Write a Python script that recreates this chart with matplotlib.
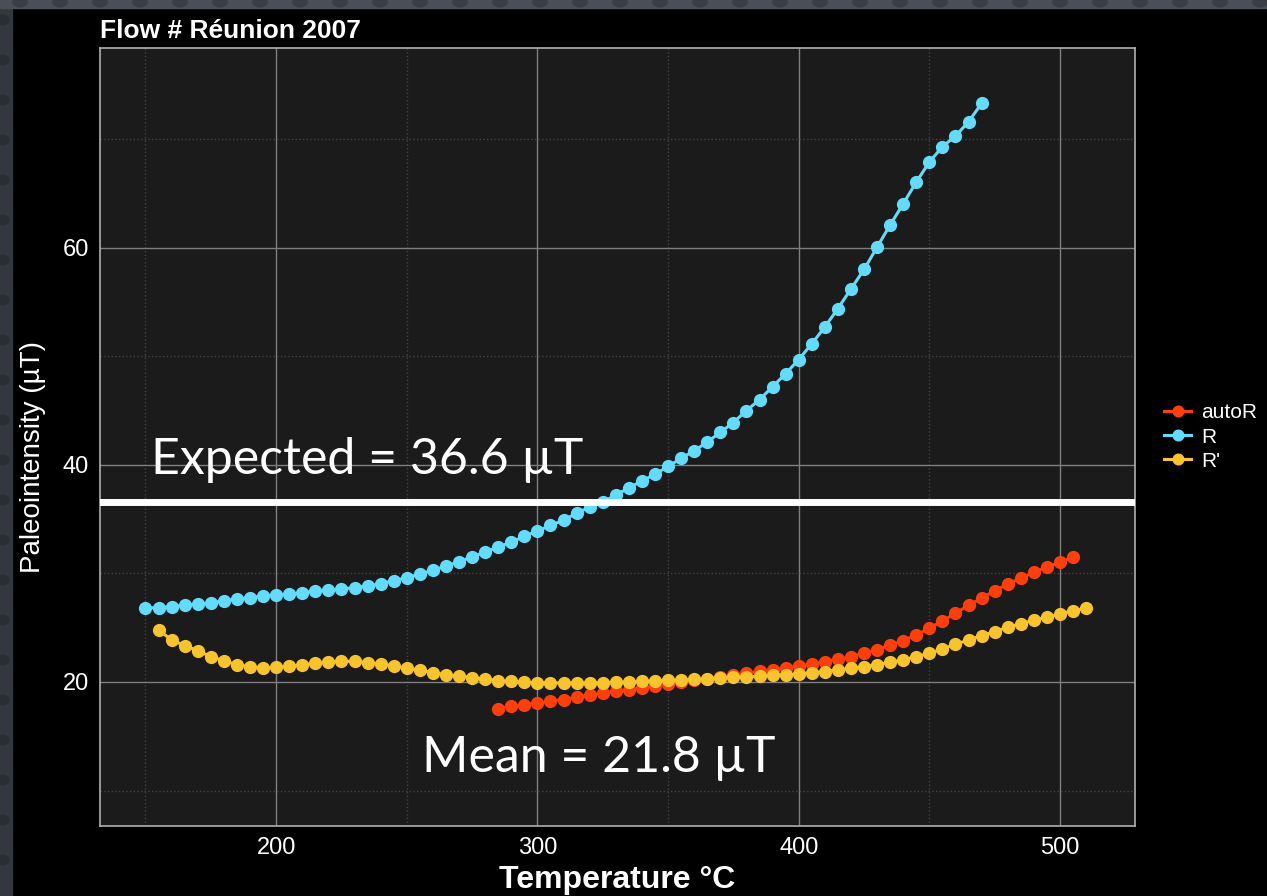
import numpy as np
import matplotlib
matplotlib.use('Agg')
import matplotlib.pyplot as plt
from matplotlib.patches import Rectangle, Circle

# values
temp_R = list(range(150, 475, 5))
R = [26.8, 26.85, 26.94, 27.07, 27.16, 27.31, 27.47, 27.65, 27.77, 27.93,
     28.02, 28.1, 28.23, 28.35, 28.44, 28.56, 28.69, 28.84, 29.05, 29.33,
     29.6, 29.94, 30.28, 30.67, 31.07, 31.53, 31.96, 32.45, 32.87, 33.43,
     33.9, 34.43, 34.9, 35.55, 36.1, 36.6, 37.2, 37.9, 38.5, 39.15,
     39.85, 40.6, 41.3, 42.1, 43.0, 43.9, 45.0, 46.0, 47.2, 48.4,
     49.7, 51.15, 52.7, 54.4, 56.2, 58.0, 60.06, 62.1, 64.05, 66.05,
     67.9, 69.3, 70.3, 71.6, 73.3]

temp_Rp = list(range(155, 515, 5))
R_prime = [24.79, 23.87, 23.35, 22.89, 22.33, 21.96, 21.57, 21.41, 21.29, 21.35,
           21.47, 21.57, 21.72, 21.84, 21.9, 21.9, 21.78, 21.66, 21.5, 21.26,
           21.1, 20.86, 20.67, 20.55, 20.4, 20.28, 20.12, 20.05, 19.97, 19.93,
           19.91, 19.9, 19.9, 19.9, 19.94, 19.98, 20.0, 20.06, 20.09, 20.15,
           20.18, 20.24, 20.31, 20.34, 20.43, 20.46, 20.52, 20.61, 20.66, 20.75,
           20.86, 20.96, 21.1, 21.26, 21.41, 21.6, 21.81, 22.03, 22.33, 22.64,
           23.04, 23.47, 23.87, 24.27, 24.64, 25.04, 25.35, 25.69, 25.96, 26.27,
           26.57, 26.79]

temp_auto = list(range(285, 510, 5))
autoR = [17.52, 17.77, 17.89, 18.07, 18.23, 18.38, 18.59, 18.78, 18.99, 19.14,
         19.3, 19.45, 19.63, 19.85, 20.0, 20.18, 20.31, 20.46, 20.61, 20.8,
         20.98, 21.13, 21.29, 21.45, 21.66, 21.87, 22.1, 22.33, 22.64, 22.95,
         23.38, 23.81, 24.33, 24.95, 25.62, 26.33, 27.07, 27.71, 28.41, 29.03,
         29.56, 30.11, 30.57, 31.03, 31.49]

expected = 36.6
mean = 21.8

c_auto = '#fe3f0c'
c_R = '#63dcfb'
c_Rp = '#f8c42e'

plt.rcParams['font.family'] = ['Liberation Sans', 'DejaVu Sans']

fig = plt.figure(figsize=(12.67, 8.96), dpi=100, facecolor='black')

# textured slide border on the left and top
fig.patches.append(Rectangle((0, 0), 12 / 1267, 1, transform=fig.transFigure,
                             color='#33383e', zorder=0))
fig.patches.append(Rectangle((0, 1 - 8 / 896), 1, 8 / 896, transform=fig.transFigure,
                             color='#4a4f57', zorder=0))
for xd in np.arange(20, 1267, 40):
    fig.patches.append(Circle((xd / 1267, 1 - 2 / 896), 7 / 1267, transform=fig.transFigure,
                              color='#3a3e44', zorder=0.5))
for yd in np.arange(20, 896, 40):
    fig.patches.append(Circle((2 / 1267, 1 - yd / 896), 7 / 1267, transform=fig.transFigure,
                              color='#2a2e33', zorder=0.5))

ax = fig.add_axes([100 / 1267, 70 / 896, 1035 / 1267, 778 / 896])
ax.set_facecolor('#1b1b1b')

ax.plot(temp_auto, autoR, '-o', color=c_auto, lw=2.2, ms=8.5, label='autoR')
ax.plot(temp_R, R, '-o', color=c_R, lw=2.2, ms=8.5, label='R')
ax.plot(temp_Rp, R_prime, '-o', color=c_Rp, lw=2.2, ms=8.5, label="R'")

ax.axhline(expected, color='white', lw=5, zorder=3)
ax.text(152, expected + 1.7, f'Expected = {expected} µT', color='white', fontsize=36,
        family=['Lato', 'DejaVu Sans'], fontweight='normal', va='bottom')
ax.text(256, mean - 10.9, f'Mean = {mean} µT', color='white', fontsize=36,
        family=['Lato', 'DejaVu Sans'], fontweight='normal', va='bottom')

ax.set_xlim(132.6, 528.7)
ax.set_ylim(6.73, 78.4)
ax.set_xticks([200, 300, 400, 500])
ax.set_xticks([150, 250, 350, 450], minor=True)
ax.set_yticks([20, 40, 60])
ax.set_yticks([10, 30, 50, 70], minor=True)
ax.grid(True, which='major', color='#7f7f7f', lw=1)
ax.grid(True, which='minor', color='#444444', lw=1, ls=':')
ax.set_axisbelow(True)
ax.tick_params(which='both', length=0, colors='white', labelsize=17, pad=8)
for s in ax.spines.values():
    s.set_color('#b0b0b0')
    s.set_linewidth(1.2)

ax.set_xlabel('Temperature °C', color='white', fontsize=23, fontweight='bold', labelpad=4)
ax.set_ylabel('Paleointensity (µT)', color='white', fontsize=20, labelpad=10)
ax.yaxis.set_label_coords(-0.052, 0.474)
fig.text(100 / 1267, 1 - 38 / 896, 'Flow # Réunion 2007', color='white', fontsize=19,
         fontweight='bold')

leg = ax.legend(loc='center left', bbox_to_anchor=(1.01, 0.5), frameon=False,
                fontsize=15, handlelength=1.3, labelspacing=0.25, handletextpad=0.5,
                markerscale=0.9)
for t in leg.get_texts():
    t.set_color('white')

fig.savefig('out.png', dpi=100, facecolor='black')
